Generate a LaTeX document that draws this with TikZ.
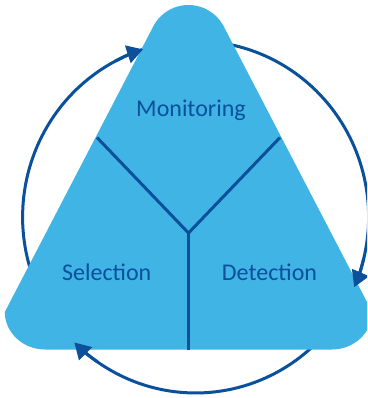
\documentclass[tikz,border=0pt]{standalone}
\usepackage{fontspec}
\setmainfont{Carlito}
\usetikzlibrary{arrows.meta}
\definecolor{triblue}{RGB}{65,180,230}
\definecolor{darkblue}{RGB}{10,80,155}
\begin{document}
\begin{tikzpicture}[x=1pt,y=-1pt,
  cyc/.style={draw=darkblue,line width=3pt},
  cyctip/.style={-{Triangle[length=16pt,width=18pt]}},
  divider/.style={draw=darkblue,line width=3pt},
  seglabel/.style={text=darkblue,font=\fontsize{24}{28}\selectfont,inner sep=0pt,anchor=base},
  cycell/.style={x radius=173,y radius=176}]
\useasboundingbox (0,0) rectangle (367,398);
\clip (0,0) rectangle (367,398);
% cycle arcs (their starts hidden under the triangle)
\draw[cyc] (210.7,41.7) arc[start angle=-85,end angle=23.5,cycell];
\draw[cyc] (328.1,330.1) arc[start angle=40,end angle=134.5,cycell];
\draw[cyc] (38.8,291.4) arc[start angle=155,end angle=252.3,cycell];
% triangle
\fill[triblue] (154,25) arc[start angle=209.8,end angle=330.2,radius=39.75]
  -- (372.2,312) .. controls (372.2,332.6) and (354,349.5) .. (332,349.5)
  -- (45,349.5) .. controls (23,349.5) and (4.8,332.6) .. (4.8,312) -- cycle;
% arrowheads on top
\draw[cyc,cyctip] (363.8,258.1) arc[start angle=13.5,end angle=23.5,cycell];
\draw[cyc,cyctip] (97.6,362.0) arc[start angle=124.5,end angle=134.5,cycell];
\draw[cyc,cyctip] (115.2,61.2) arc[start angle=242.3,end angle=252.3,cycell];
% dividers
\coordinate (J) at (188.5,233);
\coordinate (YL) at (97,137.5);
\coordinate (YR) at (280,137.5);
\coordinate (YB) at (188.5,349.5);
\draw[divider] (YL) -- (J) -- (YR);
\draw[divider] (J) -- (YB);
% labels
\node[seglabel] (mon) at (191,117) {Monitoring};
\node[seglabel] (sel) at (106.7,280) {Selection};
\node[seglabel] (det) at (269.5,280) {Detection};
\end{tikzpicture}
\end{document}
